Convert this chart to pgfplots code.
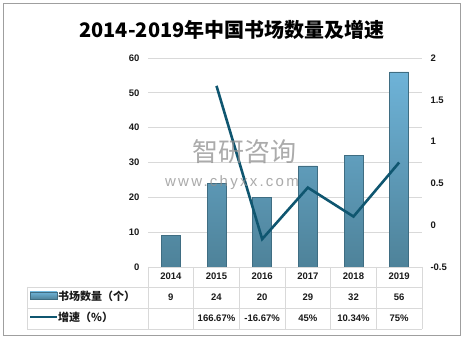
\documentclass[border=0pt]{standalone}
\usepackage{fontspec}
\setmainfont{Liberation Sans}
\newfontfamily\cjk{Noto Sans CJK SC}
\usepackage{pgfplots}
\pgfplotsset{compat=1.18}
\definecolor{linec}{HTML}{0F5670}
\definecolor{bartop}{HTML}{6EB3D8}
\definecolor{barbot}{HTML}{4E8299}
\definecolor{baredge}{HTML}{3F6D82}
\definecolor{gridc}{HTML}{D9D9D9}
\definecolor{tabc}{HTML}{D9D9D9}
\definecolor{txt}{HTML}{1A1A1A}
\definecolor{wm}{HTML}{8F8F8F}
\pgfplotstableread{
x v
0 9
1 24
2 20
3 29
4 32
5 56
}\bars
\pgfplotstableread{
x g
1 1.6667
2 -0.1667
3 0.45
4 0.1034
5 0.75
}\growth
\begin{document}
\begin{tikzpicture}[x=1pt,y=1pt]
\path[use as bounding box] (0,0) rectangle (464,339);
\fill[white] (0,0) rectangle (464,339);
\begin{axis}[at={(148pt,72pt)}, anchor=south west, width=274pt, height=209pt, scale only axis,
  xmin=-0.5, xmax=5.5, ymin=0, ymax=60, ytick={0,10,...,60}, xtick=\empty,
  axis line style={draw=none}, ymajorgrids, grid style={gridc, line width=0.8pt},
  major tick style={draw=none},
  yticklabel style={font=\bfseries\fontsize{9.5}{10}\selectfont, text=txt, xshift=-5pt},
  /pgf/number format/assume math mode=true, clip=false]
\addplot[ybar, bar width=19pt, draw=baredge, line width=0.6pt, top color=bartop, bottom color=barbot] table[x=x,y=v] {\bars};
\end{axis}
\begin{axis}[at={(148pt,72pt)}, anchor=south west, width=274pt, height=209pt, scale only axis,
  xmin=-0.5, xmax=5.5, ymin=-0.5, ymax=2, ytick={-0.5,0,0.5,1,1.5,2}, xtick=\empty,
  axis line style={draw=none}, axis y line*=right, major tick style={draw=none},
  yticklabel style={font=\bfseries\fontsize{9.5}{10}\selectfont, text=txt, xshift=5pt, anchor=west},
  /pgf/number format/assume math mode=true, clip=false]
\addplot[color=linec, line width=2.6pt, mark=none] table[x=x,y=g] {\growth};
\end{axis}
% watermark (on top, translucent)
\node[text=wm, text opacity=0.75, font=\cjk\fontsize{26}{26}\selectfont] at (244,187) {智研咨询};
\node[text=wm, text opacity=0.75, font=\fontsize{15}{15}\selectfont\addfontfeature{LetterSpace=15}] at (232,156) {www.chyxx.com};
% table
\begin{scope}[tabc, line width=0.8pt]
\draw (148,72) -- (422,72);
\draw (27,52) -- (422,52);
\draw (27,31) -- (422,31);
\draw (27,10) -- (422,10);
\draw (27,52) -- (27,10);
\foreach \i in {0,...,6} {\draw ({148+\i*274/6},72) -- ({148+\i*274/6},10);}
\end{scope}
\foreach \y [count=\i from 0] in {2014,2015,2016,2017,2018,2019} {
  \node[font=\bfseries\fontsize{9.5}{10}\selectfont, text=txt] at ({148+(\i+0.5)*274/6},62.5) {\y};
}
\foreach \v [count=\i from 0] in {9,24,20,29,32,56} {
  \node[font=\bfseries\fontsize{9.5}{10}\selectfont, text=txt] at ({148+(\i+0.5)*274/6},42) {\v};
}
\foreach \v [count=\i from 1] in {166.67\%,-16.67\%,45\%,10.34\%,75\%} {
  \node[font=\bfseries\fontsize{9.5}{10}\selectfont, text=txt] at ({148+(\i+0.5)*274/6},21) {\v};
}
% legend cells
\shade[top color=bartop, bottom color=barbot, draw=baredge, line width=0.5pt] (30,40) rectangle (57,47);
\draw[linec, line width=2.6pt] (30,22) -- (57,22);
\node[anchor=west, inner sep=0pt, font=\cjk\bfseries\fontsize{11}{11}\selectfont, text=txt] at (58,43) {书场数量（个）};
\node[anchor=west, inner sep=0pt, font=\cjk\bfseries\fontsize{11}{11}\selectfont, text=txt] at (58,22) {增速（\%）};
% title
\node[font=\cjk\bfseries\fontsize{20}{20}\selectfont, text=black] at (232,309) {2014-2019年中国书场数量及增速};
% outer border
\draw[gray!75, line width=1pt] (3.5,3.5) rectangle (460.5,335.5);
\end{tikzpicture}
\end{document}
